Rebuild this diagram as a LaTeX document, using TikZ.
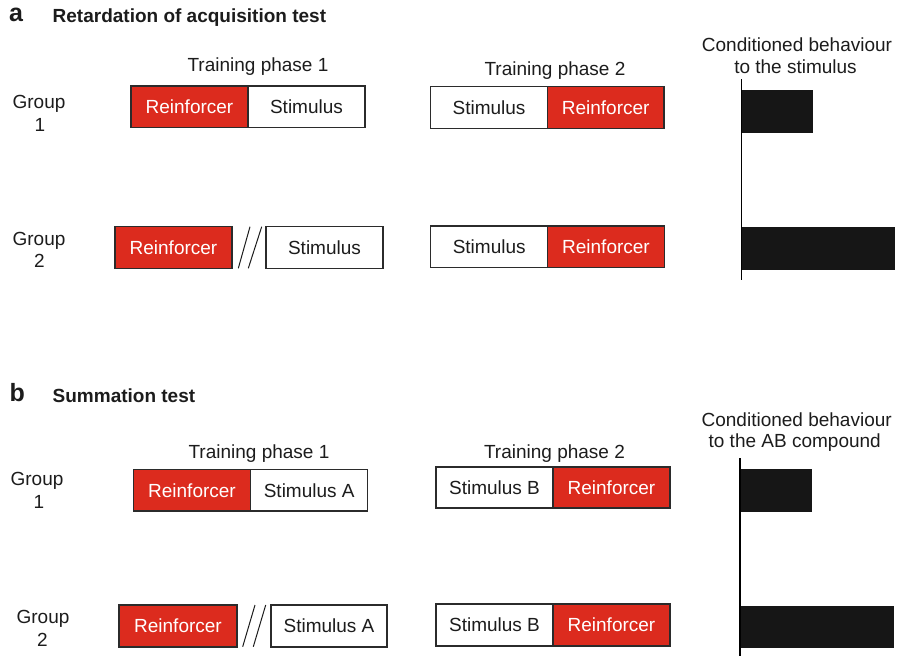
\documentclass[tikz,border=0pt]{standalone}
\usepackage{fontspec}
\setmainfont{Liberation Sans}
\definecolor{reinf}{HTML}{DC2B1E}
\definecolor{edge}{HTML}{2B2B2B}
\definecolor{ink}{HTML}{1C1C1C}
\definecolor{barfill}{HTML}{161616}
\tikzset{
  txt/.style={inner sep=0pt, anchor=base, text=ink, font=\fontsize{19}{23}\selectfont},
  label/.style={txt, anchor=base west, font=\fontsize{19}{23}\selectfont\bfseries},
  panel/.style={txt, anchor=base west, font=\fontsize{25}{28}\selectfont\bfseries},
  stimbox/.style={draw=edge, line width=1.3pt, fill=white, text=ink,
    minimum width=117pt, minimum height=41.5pt, inner sep=0pt,
    text height=13.6pt, text depth=0pt, font=\fontsize{19}{23}\selectfont},
  reinbox/.style={stimbox, fill=reinf, text=white},
  gap/.style={draw=ink, line width=1pt},
  axis/.style={draw=black, line width=1.3pt},
  bar/.style={fill=barfill},
}
\begin{document}
\begin{tikzpicture}[x=1pt, y=-1pt]
\useasboundingbox (0,0) rectangle (897,656);

% ---------- panel a ----------
\node[panel] (pa) at (9,21.5) {a};
\node[label] (ta) at (52.5,22.5) {Retardation of acquisition test};
\node[txt] (a-tp1) at (258,71) {Training phase 1};
\node[txt] (a-tp2) at (555,75.3) {Training phase 2};
\node[txt] (a-cb1) at (797,51) {Conditioned behaviour};
\node[txt] (a-cb2) at (795.5,73) {to the stimulus};

\node[txt] (a-g1) at (39,108) {Group};
\node[txt] (a-g1n) at (40,131) {1};
\node[txt] (a-g2) at (39,245) {Group};
\node[txt] (a-g2n) at (39.3,267.5) {2};

% group 1
\node[reinbox] (a1r) at (189.5,106.7) {Reinforcer};
\node[stimbox] (a1s) at (306.5,106.7) {Stimulus};
\node[stimbox, minimum width=116.6pt] (a1s2) at (489,107.5) {Stimulus};
\node[reinbox, minimum width=116.6pt] (a1r2) at (605.7,107.5) {Reinforcer};
% group 2
\node[reinbox] (a2r) at (173.5,247.5) {Reinforcer};
\node[stimbox, minimum height=42pt] (a2s) at (324.5,247.3) {Stimulus};
\node[stimbox] (a2s2) at (489.2,246.7) {Stimulus};
\node[reinbox] (a2r2) at (606,246.7) {Reinforcer};
% break between the two events
\coordinate (a-b1) at (238.3,268.3);
\coordinate (a-t1) at (250,226.7);
\coordinate (a-b2) at (248.3,268.3);
\coordinate (a-t2) at (261.7,226.7);
\draw[gap] (a-b1) -- (a-t1);
\draw[gap] (a-b2) -- (a-t2);

% response bars
\coordinate (a-ax0) at (741.5,79.3);
\coordinate (a-ax1) at (741.5,280);
\fill[bar] (741.5,90) rectangle (813.3,133.3);
\fill[bar] (741.5,226.7) rectangle (895,270);
\draw[axis] (a-ax0) -- (a-ax1);

% ---------- panel b ----------
\node[panel] (pb) at (9.5,401.7) {b};
\node[label] (tb) at (52.5,402.3) {Summation test};
\node[txt] (b-tp1) at (259,458.3) {Training phase 1};
\node[txt] (b-tp2) at (554.5,458.6) {Training phase 2};
\node[txt] (b-cb1) at (796.7,426) {Conditioned behaviour};
\node[txt] (b-cb2) at (794.7,447.5) {to the AB compound};

\node[txt] (b-g1) at (37,485) {Group};
\node[txt] (b-g1n) at (39,508.3) {1};
\node[txt] (b-g2) at (43,623.3) {Group};
\node[txt] (b-g2n) at (42.3,646) {2};

% group 1
\node[reinbox, minimum height=41.7pt] (b1r) at (192,490.2) {Reinforcer};
\node[stimbox, minimum height=41.7pt] (b1s) at (309.2,490.2) {Stimulus A};
\node[stimbox, minimum height=41pt] (b1s2) at (494.5,487.5) {Stimulus B};
\node[reinbox, minimum height=41pt] (b1r2) at (611.5,487.5) {Reinforcer};
% group 2
\node[reinbox, minimum width=118pt, minimum height=42pt] (b2r) at (178,626) {Reinforcer};
\node[stimbox, minimum width=116pt, minimum height=42pt] (b2s) at (329,626) {Stimulus A};
\node[stimbox, minimum height=42pt] (b2s2) at (494.5,625) {Stimulus B};
\node[reinbox, minimum height=42pt] (b2r2) at (611.5,625) {Reinforcer};
% break between the two events
\coordinate (b-b1) at (242.7,646.7);
\coordinate (b-t1) at (255,605);
\coordinate (b-b2) at (253.3,646.7);
\coordinate (b-t2) at (265.7,605);
\draw[gap] (b-b1) -- (b-t1);
\draw[gap] (b-b2) -- (b-t2);

% response bars
\coordinate (b-ax0) at (740,458.3);
\coordinate (b-ax1) at (740,656);
\fill[bar] (740,468.5) rectangle (811.7,512.3);
\fill[bar] (740,605.7) rectangle (894,648.3);
\draw[axis] (b-ax0) -- (b-ax1);
\end{tikzpicture}
\end{document}
